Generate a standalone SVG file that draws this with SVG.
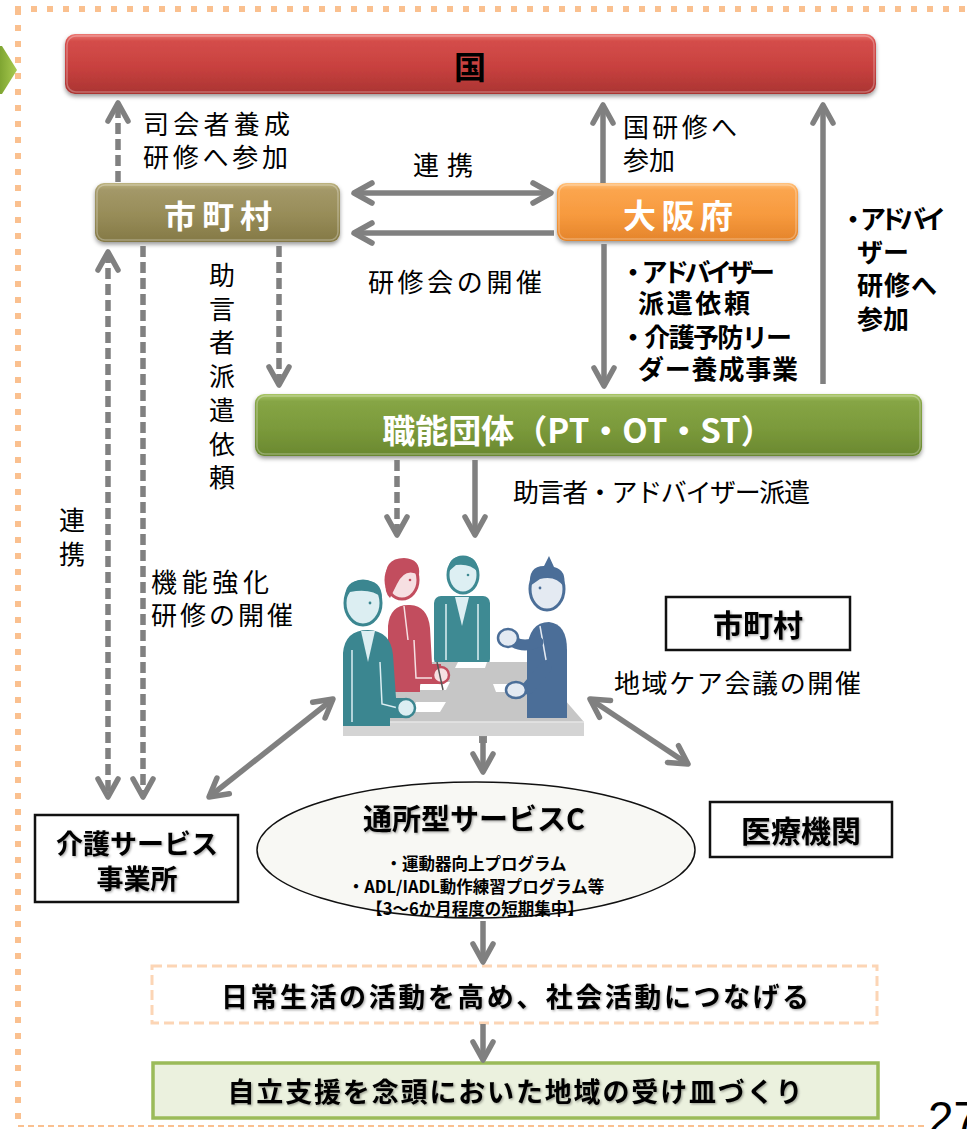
<svg xmlns="http://www.w3.org/2000/svg" width="967" height="1129" viewBox="0 0 967 1129">
  <style>
    .lbl { font-family: "Noto Sans CJK JP", "Noto Sans CJK SC", sans-serif; font-size: 26px; fill: #000; dominant-baseline: central; }
    .blbl { font-family: "Noto Sans CJK JP", "Noto Sans CJK SC", sans-serif; font-size: 26px; font-weight: 700; fill: #000; dominant-baseline: central; }
    .wt { font-family: "Noto Sans CJK JP", "Noto Sans CJK SC", sans-serif; font-weight: 700; fill: #fff; dominant-baseline: central; text-anchor: middle; }
    .bt { font-family: "Noto Sans CJK JP", "Noto Sans CJK SC", sans-serif; font-weight: 700; fill: #000; dominant-baseline: central; text-anchor: middle; }
    .conn { stroke: #808080; stroke-width: 5.5; fill: none; }
    .dash { stroke-dasharray: 11 5; }
    .gloss { fill: none; stroke: #fff; stroke-opacity: 0.28; stroke-width: 1.5; }
    .wbox { fill: #fff; stroke: #111; stroke-width: 2.5; }
  </style>
  <defs>
    <marker id="head" viewBox="-24 -14 28 28" markerWidth="28" markerHeight="28" refX="0" refY="0" orient="auto-start-reverse" markerUnits="userSpaceOnUse">
      <path d="M-18,-10 L0,0 L-18,10" fill="none" stroke="#808080" stroke-width="5.5" stroke-linecap="round" stroke-linejoin="round"/>
    </marker>
    <linearGradient id="gRed" x1="0" y1="0" x2="0" y2="1">
      <stop offset="0" stop-color="#EC7773"/>
      <stop offset="0.12" stop-color="#D44D4A"/>
      <stop offset="0.55" stop-color="#C8413F"/>
      <stop offset="1" stop-color="#AA3432"/>
    </linearGradient>
    <linearGradient id="gOlive" x1="0" y1="0" x2="0" y2="1">
      <stop offset="0" stop-color="#BDB37F"/>
      <stop offset="0.12" stop-color="#A39868"/>
      <stop offset="0.55" stop-color="#978C58"/>
      <stop offset="1" stop-color="#847946"/>
    </linearGradient>
    <linearGradient id="gOrange" x1="0" y1="0" x2="0" y2="1">
      <stop offset="0" stop-color="#FFC27E"/>
      <stop offset="0.12" stop-color="#FBA54E"/>
      <stop offset="0.55" stop-color="#F79A3E"/>
      <stop offset="1" stop-color="#E4842B"/>
    </linearGradient>
    <linearGradient id="gGreen" x1="0" y1="0" x2="0" y2="1">
      <stop offset="0" stop-color="#A8C566"/>
      <stop offset="0.12" stop-color="#86A545"/>
      <stop offset="0.55" stop-color="#7B9A3B"/>
      <stop offset="1" stop-color="#6A8830"/>
    </linearGradient>
    <linearGradient id="gTab" x1="0" y1="0" x2="1" y2="0">
      <stop offset="0" stop-color="#7FA532"/>
      <stop offset="1" stop-color="#A9CB50"/>
    </linearGradient>
    <filter id="shadow" x="-5%" y="-20%" width="110%" height="150%">
      <feDropShadow dx="0" dy="2.5" stdDeviation="2" flood-color="#000" flood-opacity="0.4"/>
    </filter>
    <filter id="tshadow" x="-10%" y="-20%" width="120%" height="150%">
      <feDropShadow dx="1.2" dy="1.2" stdDeviation="0.8" flood-color="#000" flood-opacity="0.35"/>
    </filter>
  </defs>

  <rect width="967" height="1129" fill="#fff"/>

  <!-- page frame -->
  <g id="frame">
    <line x1="15" y1="9" x2="967" y2="9" stroke="#FAC08F" stroke-width="6" stroke-dasharray="6 10"/>
    <line x1="18" y1="9" x2="18" y2="1129" stroke="#FAC08F" stroke-width="6" stroke-dasharray="6 10"/>
    <line x1="18" y1="1126" x2="925" y2="1126" stroke="#FAC08F" stroke-width="2" stroke-dasharray="6 4"/>
    <polygon points="0,46 2,46 17,70 2,94 0,94" fill="url(#gTab)"/>
    <text x="928" y="1134" font-family="Liberation Sans, sans-serif" font-size="46" fill="#000">27</text>
  </g>

  <!-- nodes -->
  <g id="node-kuni">
    <rect x="65" y="34" width="811" height="60" rx="10" fill="url(#gRed)" filter="url(#shadow)"/>
    <rect x="67" y="36" width="807" height="56" rx="9" class="gloss"/>
    <text x="470" y="65" class="bt" font-size="32">国</text>
  </g>

  <g id="node-shichoson">
    <rect x="95" y="183" width="245" height="59" rx="9" fill="url(#gOlive)" filter="url(#shadow)"/>
    <rect x="97" y="185" width="241" height="55" rx="8" class="gloss"/>
    <text x="218" y="214" class="wt" font-size="32" textLength="108" lengthAdjust="spacing">市町村</text>
  </g>

  <g id="node-osaka">
    <rect x="557" y="183" width="241" height="58" rx="9" fill="url(#gOrange)" filter="url(#shadow)"/>
    <rect x="559" y="185" width="237" height="54" rx="8" class="gloss"/>
    <text x="678" y="214" class="wt" font-size="33" textLength="110" lengthAdjust="spacing">大阪府</text>
  </g>

  <g id="node-shokuno">
    <rect x="255" y="394" width="667" height="62" rx="9" fill="url(#gGreen)" filter="url(#shadow)"/>
    <rect x="257" y="396" width="663" height="58" rx="8" class="gloss"/>
    <text x="578" y="429" class="wt" font-size="33">職能団体（PT・OT・ST）</text>
  </g>

  <!-- meeting scene -->
  <g id="node-meeting">
    <!-- centre man -->
    <rect x="434" y="596" width="56" height="70" rx="7" fill="#3E8A93"/>
    <path d="M455,597 L462,626 L469,597 Z" fill="#DDEFF3"/>
    <path d="M446,604 L446,660 M478,604 L478,660" stroke="#DDEFF3" stroke-width="1.5" fill="none"/>
    <ellipse cx="463" cy="575" rx="15" ry="18" fill="#DDEFF3" stroke="#3E8A93" stroke-width="3"/>
    <path d="M448,572 Q448,556 463,556 Q478,556 478,572 Q470,563 456,565 Z" fill="#3E8A93"/>
    <circle cx="468" cy="575" r="1.3" fill="#3E8A93"/>
    <!-- table -->
    <polygon points="428,662 532,662 584,722 343,722" fill="#C6C6C6"/>
    <rect x="343" y="722" width="241" height="14" fill="#D4D4D4"/>
    <line x1="343" y1="722" x2="584" y2="722" stroke="#E6E6E6" stroke-width="1.5"/>
    <rect x="479" y="736" width="8" height="7" fill="#8A8A8A"/>
    <polygon points="410,712 440,712 446,702 416,702" fill="#fff"/>
    <polygon points="418,690 446,690 450,682 422,682" fill="#fff"/>
    <polygon points="455,668 485,668 487,662 458,662" fill="#fff"/>
    <polygon points="496,692 520,692 516,684 493,684" fill="#fff"/>
    <!-- woman -->
    <path d="M388,692 L388,626 Q390,604 410,605 Q428,606 430,628 L432,664 L441,664 L441,684 L420,684 L420,692 Z" fill="#C24D5E"/>
    <path d="M404,606 L408,640 M414,640 L416,678 L432,678" stroke="#F6DFE2" stroke-width="1.5" fill="none"/>
    <ellipse cx="441" cy="675" rx="8" ry="8" fill="#F6DFE2" stroke="#C24D5E" stroke-width="2.5"/>
    <line x1="437" y1="662" x2="443" y2="690" stroke="#555" stroke-width="1.5"/>
    <ellipse cx="402" cy="580" rx="16" ry="19" fill="#F6DFE2" stroke="#C24D5E" stroke-width="3"/>
    <path d="M386,582 Q383,558 404,558 Q421,559 419,575 Q405,567 397,584 L390,598 Q384,592 386,582 Z" fill="#C24D5E"/>
    <circle cx="410" cy="580" r="1.3" fill="#C24D5E"/>
    <!-- left man -->
    <path d="M343,726 L343,653 Q345,630 368,630 Q391,631 393,655 L396,698 L405,698 L405,718 L390,718 L390,726 Z" fill="#3B8690"/>
    <path d="M361,631 L368,662 L375,631 Z" fill="#DCEEF2"/>
    <path d="M352,650 L352,722 M380,662 L382,704 L398,708" stroke="#DCEEF2" stroke-width="1.5" fill="none"/>
    <ellipse cx="406" cy="708" rx="9" ry="9" fill="#DCEEF2" stroke="#3B8690" stroke-width="2.5"/>
    <ellipse cx="363" cy="603" rx="18" ry="22" fill="#DCEEF2" stroke="#3B8690" stroke-width="3"/>
    <path d="M345,600 Q344,580 363,580 Q382,580 382,598 Q372,588 350,592 Z" fill="#3B8690"/>
    <circle cx="370" cy="603" r="1.4" fill="#3B8690"/>
    <!-- right man -->
    <path d="M527,718 L527,650 Q529,622 549,622 Q567,624 567,650 L567,718 Z" fill="#4B6E98"/>
    <path d="M540,626 L546,660" stroke="#E4EAF2" stroke-width="1.5" fill="none"/>
    <path d="M538,642 Q524,648 514,642" stroke="#4B6E98" stroke-width="11" fill="none" stroke-linecap="round"/>
    <ellipse cx="508" cy="638" rx="10" ry="9" fill="#E4EAF2" stroke="#4B6E98" stroke-width="2.5"/>
    <path d="M545,668 L528,688" stroke="#4B6E98" stroke-width="13" fill="none" stroke-linecap="round"/>
    <ellipse cx="516" cy="690" rx="10" ry="8" fill="#E4EAF2" stroke="#4B6E98" stroke-width="2.5"/>
    <ellipse cx="547" cy="589" rx="17" ry="21" fill="#E4EAF2" stroke="#4B6E98" stroke-width="3"/>
    <path d="M530,586 Q528,566 544,566 L549,556 L554,567 Q567,570 564,587 Q556,575 540,579 Z" fill="#4B6E98"/>
    <circle cx="540" cy="588" r="1.4" fill="#4B6E98"/>
  </g>

  <g id="node-shichoson-meeting">
    <rect x="666" y="597" width="184" height="53" class="wbox"/>
    <text x="758" y="623" class="bt" font-size="30" filter="url(#tshadow)">市町村</text>
  </g>

  <g id="node-iryo">
    <rect x="710" y="802" width="182" height="55" class="wbox"/>
    <text x="801" y="829" class="bt" font-size="30" filter="url(#tshadow)">医療機関</text>
  </g>

  <g id="node-kaigo">
    <rect x="35" y="815" width="203" height="87" class="wbox"/>
    <text class="bt" font-size="27" filter="url(#tshadow)"><tspan x="137" y="842">介護サービス</tspan><tspan x="137" y="877">事業所</tspan></text>
  </g>

  <g id="node-service-c">
    <ellipse cx="476" cy="850" rx="219" ry="68" fill="#F8F8F4" stroke="#111" stroke-width="1.5"/>
    <text x="474" y="817" class="bt" font-size="29" filter="url(#tshadow)">通所型サービスC</text>
    <text class="bt" font-size="16.5" font-weight="400"><tspan x="476" y="863">・運動器向上プログラム</tspan><tspan x="476" y="886">・ADL/IADL動作練習プログラム等</tspan></text>
    <text x="475" y="908" class="bt" font-size="16.5">【3～6か月程度の短期集中】</text>
  </g>

  <g id="node-daily">
    <rect x="152" y="966" width="725" height="57" fill="#fff" stroke="#FCD5B5" stroke-width="3" stroke-dasharray="10 5"/>
    <text x="515" y="995" class="bt" font-size="27" textLength="588" lengthAdjust="spacing" filter="url(#tshadow)">日常生活の活動を高め、社会活動につなげる</text>
  </g>

  <g id="node-local">
    <rect x="153" y="1063" width="725" height="55" fill="#EBF1DE" stroke="#9BBB59" stroke-width="3.5"/>
    <text x="515" y="1090" class="bt" font-size="27" textLength="575" lengthAdjust="spacing" filter="url(#tshadow)">自立支援を念頭においた地域の受け皿づくり</text>
  </g>

  <!-- connectors -->
  <g id="connectors">
    <line x1="118" y1="182" x2="118" y2="103" class="conn dash" marker-end="url(#head)"/>
    <line x1="354" y1="193" x2="551" y2="193" class="conn" marker-start="url(#head)" marker-end="url(#head)"/>
    <line x1="554" y1="233" x2="354" y2="233" class="conn" marker-end="url(#head)"/>
    <line x1="603" y1="183" x2="603" y2="105" class="conn" marker-end="url(#head)"/>
    <line x1="604" y1="244" x2="604" y2="386" class="conn" marker-end="url(#head)"/>
    <line x1="823" y1="384" x2="823" y2="105" class="conn" marker-end="url(#head)"/>
    <line x1="279" y1="246" x2="279" y2="385" class="conn dash" marker-end="url(#head)"/>
    <line x1="108" y1="252" x2="108" y2="797" class="conn dash" marker-start="url(#head)" marker-end="url(#head)"/>
    <line x1="143" y1="246" x2="143" y2="797" class="conn dash" marker-end="url(#head)"/>
    <line x1="397" y1="460" x2="397" y2="535" class="conn dash" marker-end="url(#head)"/>
    <line x1="475" y1="460" x2="475" y2="535" class="conn" marker-end="url(#head)"/>
    <line x1="483" y1="737" x2="483" y2="772" class="conn" marker-end="url(#head)"/>
    <line x1="209" y1="797" x2="333" y2="699" class="conn" marker-start="url(#head)" marker-end="url(#head)"/>
    <line x1="590" y1="699" x2="688" y2="764" class="conn" marker-start="url(#head)" marker-end="url(#head)"/>
    <line x1="483" y1="921" x2="483" y2="962" class="conn" marker-end="url(#head)"/>
    <line x1="483" y1="1024" x2="483" y2="1060" class="conn" marker-end="url(#head)"/>
  </g>

  <!-- connector labels -->
  <g id="labels">
    <text class="lbl"><tspan x="143" y="122" textLength="147" lengthAdjust="spacing">司会者養成</tspan><tspan x="143" y="155" textLength="145" lengthAdjust="spacing">研修へ参加</tspan></text>
    <text x="413" y="163" class="lbl" textLength="60" lengthAdjust="spacing">連携</text>
    <text x="368" y="280" class="lbl" textLength="174" lengthAdjust="spacing">研修会の開催</text>
    <text class="lbl"><tspan x="623" y="125" textLength="114" lengthAdjust="spacing">国研修へ</tspan><tspan x="623" y="158">参加</tspan></text>
    <text class="blbl"><tspan x="620" y="270" textLength="155" lengthAdjust="spacing">・アドバイザー</tspan><tspan x="638" y="301" textLength="112" lengthAdjust="spacing">派遣依頼</tspan><tspan x="620" y="335" textLength="172" lengthAdjust="spacing">・介護予防リー</tspan><tspan x="638" y="367" textLength="160" lengthAdjust="spacing">ダー養成事業</tspan></text>
    <text class="blbl"><tspan x="840" y="217" textLength="106" lengthAdjust="spacing">・アドバイ</tspan><tspan x="857" y="250">ザー</tspan><tspan x="857" y="283" textLength="80" lengthAdjust="spacing">研修へ</tspan><tspan x="857" y="317">参加</tspan></text>
    <text class="lbl" text-anchor="middle"><tspan x="222" y="273">助</tspan><tspan x="222" y="307">言</tspan><tspan x="222" y="340">者</tspan><tspan x="222" y="374">派</tspan><tspan x="222" y="408">遣</tspan><tspan x="222" y="442">依</tspan><tspan x="222" y="475">頼</tspan></text>
    <text class="lbl" text-anchor="middle"><tspan x="72" y="518">連</tspan><tspan x="72" y="552">携</tspan></text>
    <text x="513" y="490" class="lbl" font-size="25" textLength="297" lengthAdjust="spacing">助言者・アドバイザー派遣</text>
    <text class="lbl"><tspan x="151" y="580" textLength="118" lengthAdjust="spacing">機能強化</tspan><tspan x="151" y="613" textLength="142" lengthAdjust="spacing">研修の開催</tspan></text>
    <text x="614" y="681" class="lbl" textLength="247" lengthAdjust="spacing">地域ケア会議の開催</text>
  </g>
</svg>
